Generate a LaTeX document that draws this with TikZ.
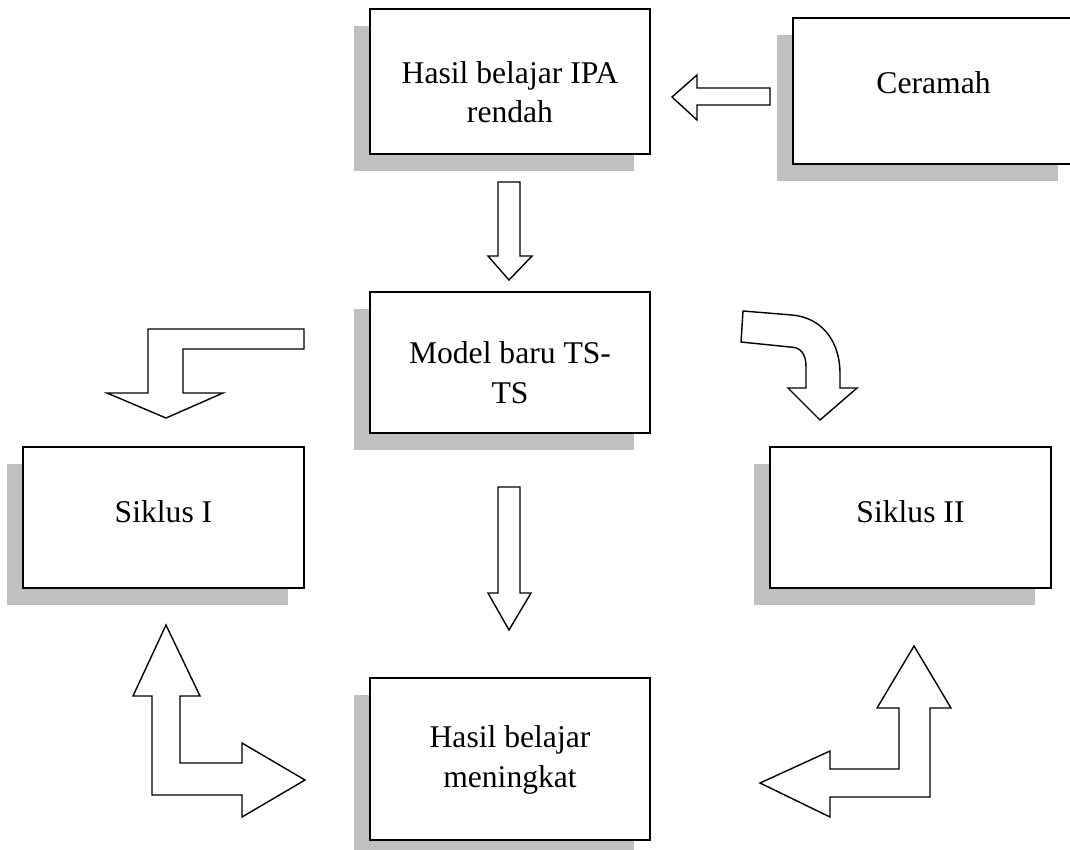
\documentclass[tikz,border=0pt]{standalone}
\usepackage{fontspec}
\setmainfont{Liberation Serif}
\usetikzlibrary{shadows}
\definecolor{shadowgray}{RGB}{192,192,192}

\tikzset{
  box/.style={draw, line width=0.9pt, fill=white, minimum width=5.6cm,
    minimum height=2.9cm, inner sep=0pt, align=center,
    text height=#1, text depth=0pt,
    font=\fontsize{18}{22.7}\selectfont,
    drop shadow={shadow xshift=-0.32cm, shadow yshift=-0.34cm,
      fill=shadowgray, opacity=1}},
  blockarrow/.style={draw, line width=0.8pt, fill=white, line join=miter}
}

\begin{document}
\begin{tikzpicture}[x=0.02cm, y=-0.02cm]
  \useasboundingbox (0,0) rectangle (1070,849);
  \clip (0,0) rectangle (1070,849);
  \node[box=1.66cm] (rendah) at (510,81.5) {Hasil belajar IPA\\rendah};
  \node[box=0.08cm, minimum width=5.62cm, minimum height=2.92cm] (ceramah) at (933.5,91) {Ceramah};
  \node[box=1.62cm, minimum height=2.82cm] (model) at (510,362.5) {Model baru TS-\\TS};
  \node[box=0.18cm, minimum width=5.62cm, minimum height=2.82cm] (siklus1) at (163.5,517.5) {Siklus I};
  \node[box=0.18cm, minimum width=5.62cm, minimum height=2.82cm] (siklus2) at (910.5,517.5) {Siklus II};
  \node[box=1.12cm, minimum height=3.24cm] (meningkat) at (510,759) {Hasil belajar\\meningkat};

  % ceramah to rendah
  \draw[blockarrow] (770,88) -- (697,88) -- (697,75) -- (672,97) -- (697,120)
    -- (697,105) -- (770,105) -- cycle;
  % rendah to model
  \draw[blockarrow] (498,182) -- (520,182) -- (520,256) -- (532,256) -- (509,280)
    -- (488,256) -- (498,256) -- cycle;
  % model to meningkat
  \draw[blockarrow] (498,487) -- (520,487) -- (520,593) -- (531,593) -- (509,630)
    -- (488,593) -- (498,593) -- cycle;
  % bent arrow to siklus1
  \draw[blockarrow] (304,329) -- (148,329) -- (148,393) -- (107,393) -- (166,418)
    -- (223,393) -- (183,393) -- (183,349) -- (304,349) -- cycle;
  % curved arrow to siklus2
  \draw[blockarrow] (741,342) -- (743,311) -- (792,315)
    .. controls (825,318) and (840,345) .. (840,373) -- (840,388) -- (857,388)
    -- (820,420) -- (788,388) -- (806,388) -- (806,367)
    .. controls (806,353) and (800,347) .. (790,347) -- cycle;
  % siklus1 and meningkat
  \draw[blockarrow] (166,625) -- (200,696) -- (180,696) -- (180,763) -- (242,763)
    -- (242,743) -- (305,780) -- (242,817) -- (242,795) -- (152,795) -- (152,696)
    -- (133,696) -- cycle;
  % siklus2 and meningkat
  \draw[blockarrow] (914,646) -- (951,708) -- (930,708) -- (930,797) -- (830,797)
    -- (830,817) -- (760,783) -- (830,751) -- (830,769) -- (899,769) -- (899,708)
    -- (877,708) -- cycle;
\end{tikzpicture}
\end{document}
